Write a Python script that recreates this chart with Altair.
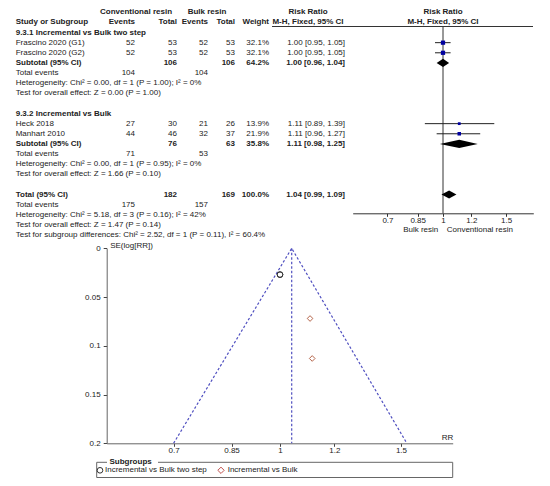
import altair as alt
import pandas as pd

W, H = 534, 470
FONT = "Liberation Sans"
INK = "#222222"

# ---------------- table data ----------------
top_headers = ["Conventional resin", "Bulk resin", "Risk Ratio", "Risk Ratio"]
sub_headers_left = ["Study or Subgroup"]
sub_headers_right = ["Events", "Total", "Events", "Total", "Weight"]
sub_headers_center = ["M-H, Fixed, 95% CI", "M-H, Fixed, 95% CI"]

row_index = [2, 3, 4, 5, 6, 7, 8, 10, 11, 12, 13, 14, 15, 16, 18, 19, 20, 21, 22]
row_labels = [
    "9.3.1 Incremental vs Bulk two step",
    "Frascino 2020 (G1)",
    "Frascino 2020 (G2)",
    "Subtotal (95% CI)",
    "Total events",
    "Heterogeneity: Chi² = 0.00, df = 1 (P = 1.00); I² = 0%",
    "Test for overall effect: Z = 0.00 (P = 1.00)",
    "9.3.2 Incremental vs Bulk",
    "Heck 2018",
    "Manhart 2010",
    "Subtotal (95% CI)",
    "Total events",
    "Heterogeneity: Chi² = 0.00, df = 1 (P = 0.95); I² = 0%",
    "Test for overall effect: Z = 1.66 (P = 0.10)",
    "Total (95% CI)",
    "Total events",
    "Heterogeneity: Chi² = 5.18, df = 3 (P = 0.16); I² = 42%",
    "Test for overall effect: Z = 1.47 (P = 0.14)",
    "Test for subgroup differences: Chi² = 2.52, df = 1 (P = 0.11), I² = 60.4%",
]
row_bold = [True, False, False, True, False, False, False, True, False, False,
            True, False, False, False, True, False, False, False, False]
conv_events = ["", "52", "52", "", "104", "", "", "", "27", "44", "", "71", "", "", "", "175", "", "", ""]
conv_total = ["", "53", "53", "106", "", "", "", "", "30", "46", "76", "", "", "", "182", "", "", "", ""]
bulk_events = ["", "52", "52", "", "104", "", "", "", "21", "32", "", "53", "", "", "", "157", "", "", ""]
bulk_total = ["", "53", "53", "106", "", "", "", "", "26", "37", "63", "", "", "", "169", "", "", "", ""]
weights = ["", "32.1%", "32.1%", "64.2%", "", "", "", "", "13.9%", "21.9%", "35.8%", "", "", "", "100.0%", "", "", "", ""]
rr_text = ["", "1.00 [0.95, 1.05]", "1.00 [0.95, 1.05]", "1.00 [0.96, 1.04]", "", "", "", "",
           "1.11 [0.89, 1.39]", "1.11 [0.96, 1.27]", "1.11 [0.98, 1.25]", "", "", "",
           "1.04 [0.99, 1.09]", "", "", "", ""]

# ---------------- forest data ----------------
study_rows = [3, 4, 11, 12]
study_rr = [1.00, 1.00, 1.11, 1.11]
study_lo = [0.95, 0.95, 0.89, 0.96]
study_hi = [1.05, 1.05, 1.39, 1.27]
study_weight = [32.1, 32.1, 13.9, 21.9]

pooled_rows = [5, 13, 18]
pooled_rr = [1.00, 1.11, 1.04]
pooled_lo = [0.96, 0.98, 0.99]
pooled_hi = [1.04, 1.25, 1.09]

forest_ticks = [0.7, 0.85, 1, 1.2, 1.5]
forest_side_labels = ["Bulk resin", "Conventional resin"]

# ---------------- funnel data ----------------
funnel_groups = ["Incremental vs Bulk two step", "Incremental vs Bulk"]
funnel_study_group = [0, 0, 1, 1]
funnel_rr = [1.00, 1.00, 1.114, 1.106]
funnel_se = [0.027, 0.027, 0.113, 0.072]
funnel_pooled_rr = [1.04]
funnel_limit_rr = [0.70, 1.04, 1.53]
funnel_limit_se = [0.2, 0.0, 0.2]
funnel_x_ticks = [0.7, 0.85, 1, 1.2, 1.5]
funnel_y_ticks = [0, 0.05, 0.1, 0.15, 0.2]
legend_title = "Subgroups"

# ---------------- layout (pixels) ----------------
COL_X = {"label": 7.7, "conv_e": 127, "conv_t": 169, "bulk_e": 200, "bulk_t": 227,
         "weight": 261, "rr": 337}
HEAD_CENTER_X = [128, 199, 300, 435]
SUB_RIGHT_X = [127, 169, 200, 227, 261]
SUB_CENTER_X = [300, 435]

px_x = alt.Scale(domain=[0, W], range=[0, W], nice=False, zero=False)
px_y = alt.Scale(domain=[0, H], range=[0, H], nice=False, zero=False)
row_y = alt.Scale(domain=[0, 22], range=[4.3, 227], nice=False, zero=False)
forest_x = alt.Scale(type="log", domain=[0.56, 1.7857], range=[344.7, 525.3], nice=False, zero=False)
funnel_x = alt.Scale(type="log", domain=[0.5594, 1.784], range=[98.7, 444.7], nice=False, zero=False)
funnel_y = alt.Scale(domain=[0, 0.2], range=[240.3, 435.3], nice=False, zero=False)

# ---------------- build table cells ----------------
cells = []
for i, r in enumerate(row_index):
    b = row_bold[i]
    cells.append(dict(row=r, xpos=COL_X["label"], text=row_labels[i], align="left", bold=b))
    for key, arr in [("conv_e", conv_events), ("conv_t", conv_total), ("bulk_e", bulk_events),
                     ("bulk_t", bulk_total), ("weight", weights), ("rr", rr_text)]:
        if arr[i]:
            cells.append(dict(row=r, xpos=COL_X[key], text=arr[i], align="right", bold=b))
for t, x in zip(top_headers, HEAD_CENTER_X):
    cells.append(dict(row=0, xpos=x, text=t, align="center", bold=True))
cells.append(dict(row=1, xpos=COL_X["label"], text=sub_headers_left[0], align="left", bold=True))
for t, x in zip(sub_headers_right, SUB_RIGHT_X):
    cells.append(dict(row=1, xpos=x, text=t, align="right", bold=True))
for t, x in zip(sub_headers_center, SUB_CENTER_X):
    cells.append(dict(row=1, xpos=x, text=t, align="center", bold=True))
cells = pd.DataFrame(cells)


def text_layer(align, bold):
    d = cells[(cells["align"] == align) & (cells["bold"] == bold)]
    return alt.Chart(d).mark_text(
        align=align, baseline="middle", fontSize=8, font=FONT, color=INK,
        fontWeight="bold" if bold else "normal"
    ).encode(
        x=alt.X("xpos:Q", scale=px_x, axis=None),
        y=alt.Y("row:Q", scale=row_y, axis=None),
        text="text:N",
    )


table = alt.layer(
    text_layer("left", False), text_layer("left", True),
    text_layer("right", False), text_layer("right", True),
    text_layer("center", True),
)

# ---------------- forest plot ----------------
df_study = pd.DataFrame(dict(row=study_rows, rr=study_rr, lo=study_lo, hi=study_hi, weight=study_weight))
dia = []
for k, (r, e, lo, hi) in enumerate(zip(pooled_rows, pooled_rr, pooled_lo, pooled_hi)):
    dia.append(dict(id=k, x=lo, y1=r, y2=r))
    dia.append(dict(id=k, x=e, y1=r - 0.4, y2=r + 0.4))
    dia.append(dict(id=k, x=hi, y1=r, y2=r))
df_dia = pd.DataFrame(dia)

forest_axis = alt.Axis(
    orient="bottom", offset=-264.7, values=forest_ticks, format="~g", title=None,
    tickSize=3, labelPadding=0, labelOverlap=False, labelFlush=False,
    domainColor="#333333", tickColor="#333333",
)

ci = alt.Chart(df_study).mark_rule(color=INK, strokeWidth=1).encode(
    x=alt.X("lo:Q", scale=forest_x, axis=forest_axis),
    x2="hi:Q",
    y=alt.Y("row:Q", scale=row_y, axis=None),
)
squares = alt.Chart(df_study).mark_square(color="#0000a0", opacity=1).encode(
    x=alt.X("rr:Q", scale=forest_x),
    y=alt.Y("row:Q", scale=row_y),
    size=alt.Size("weight:Q", scale=alt.Scale(domain=[0, 32.1], range=[0, 18]), legend=None),
)
diamonds = alt.Chart(df_dia).mark_area(orient="vertical", color="#000000", opacity=1).encode(
    x=alt.X("x:Q", scale=forest_x),
    y=alt.Y("y1:Q", scale=row_y),
    y2="y2:Q",
    detail="id:N",
)
null_line = alt.Chart(pd.DataFrame({"rr": [1.0]})).mark_rule(color="#333333", strokeWidth=1).encode(
    x=alt.X("rr:Q", scale=forest_x),
    y=alt.value(18.5),
    y2=alt.value(205.3),
)
forest = alt.layer(null_line, ci, squares, diamonds)

# ---------------- funnel plot ----------------
df_lim = pd.DataFrame(dict(rr=funnel_limit_rr, se=funnel_limit_se))
df_pool = pd.DataFrame(dict(rr=funnel_pooled_rr, se0=[0.0], se1=[0.2]))
df_fun = pd.DataFrame(dict(rr=funnel_rr, se=funnel_se,
                           group=[funnel_groups[g] for g in funnel_study_group]))

fx_axis = alt.Axis(
    orient="bottom", offset=-34.7, values=funnel_x_ticks, format="~g",
    title="RR", titleX=444.7, titleY=-6, titleAlign="right", titleBaseline="middle",
    titleFontWeight="normal", titleFontSize=8,
    tickSize=3, labelPadding=0.5, labelOverlap=False, labelFlush=False,
    domainColor="#666666", tickColor="#444444",
)
fy_axis = alt.Axis(
    orient="left", offset=-98.7, values=funnel_y_ticks, format="~g",
    title="SE(log[RR])", titleAngle=0, titleX=3, titleY=237, titleAlign="left",
    titleBaseline="middle", titleFontWeight="normal", titleFontSize=8,
    tickSize=3.5, labelPadding=3, labelOverlap=False, labelFlush=False,
    domainColor="#666666", tickColor="#444444",
)

LIMIT_COLOR = "#5050c0"
limits = alt.Chart(df_lim).mark_line(color=LIMIT_COLOR, strokeDash=[2.5, 2], strokeWidth=1.2).encode(
    x=alt.X("rr:Q", scale=funnel_x, axis=fx_axis),
    y=alt.Y("se:Q", scale=funnel_y, axis=fy_axis),
)
pool_line = alt.Chart(df_pool).mark_rule(color=LIMIT_COLOR, strokeDash=[2.5, 2], strokeWidth=1.2).encode(
    x=alt.X("rr:Q", scale=funnel_x),
    y=alt.Y("se0:Q", scale=funnel_y),
    y2="se1:Q",
)
pts = alt.Chart(df_fun).mark_point(filled=False, size=32, strokeWidth=1, opacity=1).encode(
    x=alt.X("rr:Q", scale=funnel_x),
    y=alt.Y("se:Q", scale=funnel_y),
    shape=alt.Shape("group:N", scale=alt.Scale(domain=funnel_groups, range=["circle", "diamond"]), legend=None),
    color=alt.Color("group:N", scale=alt.Scale(domain=funnel_groups, range=["#333333", "#b5654a"]), legend=None),
)
funnel = alt.layer(limits, pool_line, pts)

# ---------------- free text + manual legend ----------------
one = pd.DataFrame({"k": [0]})
side_df = pd.DataFrame(dict(text=forest_side_labels, x=[430.3, 438.7], y=[222, 222]))
side_bulk = alt.Chart(side_df.iloc[[0]]).mark_text(align="right", baseline="middle", fontSize=8, font=FONT, color=INK).encode(
    x=alt.X("x:Q", scale=px_x, axis=None), y=alt.Y("y:Q", scale=px_y, axis=None), text="text:N")
side_conv = alt.Chart(side_df.iloc[[1]]).mark_text(align="left", baseline="middle", fontSize=8, font=FONT, color=INK).encode(
    x=alt.X("x:Q", scale=px_x), y=alt.Y("y:Q", scale=px_y), text="text:N")

frame = alt.Chart(one).mark_rect(fill="white", stroke="#666666", strokeWidth=1).encode(
    x=alt.value(88.7), x2=alt.value(444.7), y=alt.value(454.3), y2=alt.value(469.5))
cover = alt.Chart(one).mark_rect(fill="white", stroke=None).encode(
    x=alt.value(99), x2=alt.value(150), y=alt.value(451.5), y2=alt.value(457))
leg_title = alt.Chart(pd.DataFrame(dict(text=[legend_title], x=[101.5], y=[453.5]))).mark_text(
    align="left", baseline="middle", fontSize=8, font=FONT, fontWeight="bold", color=INK).encode(
    x=alt.X("x:Q", scale=px_x), y=alt.Y("y:Q", scale=px_y), text="text:N")
leg_text = alt.Chart(pd.DataFrame(dict(text=funnel_groups, x=[97, 219.7], y=[462.3, 462.3]))).mark_text(
    align="left", baseline="middle", fontSize=8, font=FONT, color=INK).encode(
    x=alt.X("x:Q", scale=px_x), y=alt.Y("y:Q", scale=px_y), text="text:N")
leg_circle = alt.Chart(one).mark_point(shape="circle", filled=False, size=32, strokeWidth=1,
                                       color="#333333", opacity=1).encode(
    x=alt.value(92), y=alt.value(462.3))
leg_diamond = alt.Chart(one).mark_point(shape="diamond", filled=False, size=40, strokeWidth=1,
                                        color="#c0504d", opacity=1).encode(
    x=alt.value(213), y=alt.value(462.3))
header_rule = alt.Chart(one).mark_rule(color="#333333", strokeWidth=1).encode(
    x=alt.value(264), x2=alt.value(525), y=alt.value(18.5))

misc = alt.layer(side_bulk, side_conv, frame, cover, leg_title, leg_text, leg_circle, leg_diamond, header_rule)

chart = alt.layer(table, forest, funnel, misc).resolve_scale(
    x="independent", y="independent"
).properties(
    width=W, height=H, padding=0, autosize=alt.AutoSizeParams(type="none")
).configure(
    font=FONT
).configure_view(
    stroke=None
).configure_axis(
    labelFont=FONT, labelFontSize=8, labelColor=INK, titleFont=FONT, titleColor=INK, grid=False
)

chart.save("out.html", embed_options={"renderer": "svg", "actions": False})
